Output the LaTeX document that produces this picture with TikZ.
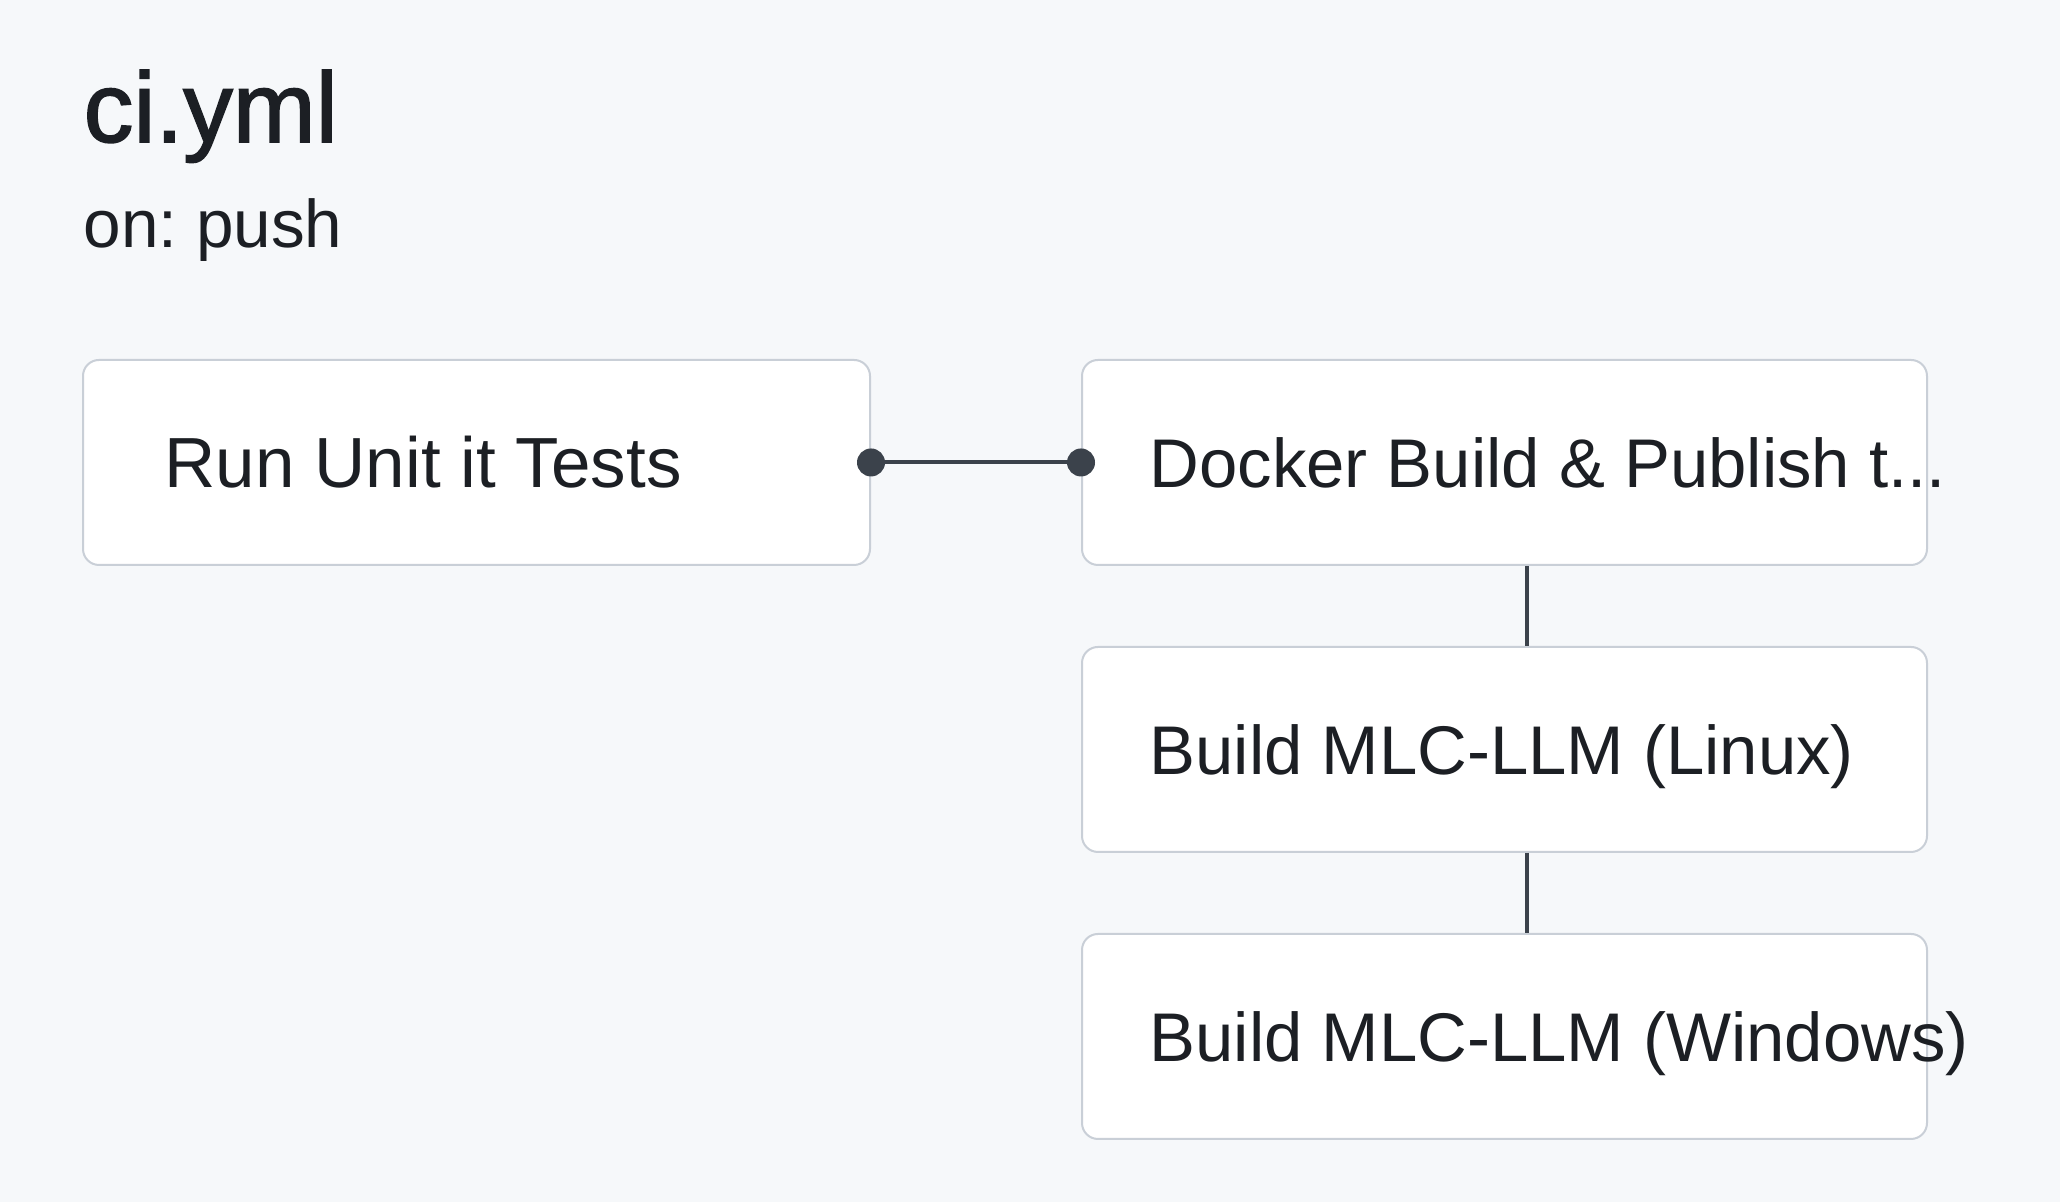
\documentclass[tikz,border=0pt]{standalone}
\usepackage{fontspec}
\setmainfont{Liberation Sans}
\newfontfamily\titleFont{Liberation Sans}[FakeBold=1.6]
\usetikzlibrary{positioning}
\frenchspacing
\definecolor{pageBg}{RGB}{246,248,250}
\definecolor{boxLine}{RGB}{201,207,215}
\definecolor{linkGray}{RGB}{59,66,75}
\definecolor{textDark}{RGB}{28,31,36}
\tikzset{
	jobbox/.style={draw=boxLine, line width=0.02cm, fill=white, rounded corners=0.16cm, minimum height=2.05cm, inner sep=0pt},
	joblabel/.style={anchor=base west, inner sep=0pt, text=textDark, font=\fontsize{19.6}{24}\selectfont},
	link/.style={draw=linkGray, line width=0.04cm},
	linkdot/.style={circle, fill=linkGray, inner sep=0pt, minimum size=0.28cm}
}
\begin{document}
\begin{tikzpicture}
		\fill[pageBg] (0,0) rectangle (20.6,12.02);		% background
		\useasboundingbox (0,0) rectangle (20.6,12.02);
		
		% workflow title
		\node[joblabel, font=\titleFont\fontsize{28.3}{32}\selectfont] (title) at (0.83,10.60) {ci.yml};
		\node[joblabel, font=\fontsize{19.2}{22}\selectfont] (trigger) at (0.83,9.54) {on: push};
		
		% job boxes
		\node[jobbox, minimum width=7.87cm] (unitTests) at (4.765,7.395) {};
		\node[jobbox, minimum width=8.45cm, right=2.10cm of unitTests] (dockerPub) {};
		\node[jobbox, minimum width=8.45cm, below=0.80cm of dockerPub] (buildLinux) {};
		\node[jobbox, minimum width=8.45cm, below=0.80cm of buildLinux] (buildWin) {};
		
		% job names
		\node[joblabel, font=\fontsize{20.2}{24}\selectfont] (unitTestsText) at ([xshift=0.82cm,yshift=-0.255cm]unitTests.west) {Run Unit it Tests};
		\node[joblabel] (dockerPubText) at ([xshift=0.68cm,yshift=-0.255cm]dockerPub.west) {Docker Build \& Publish t...};
		\node[joblabel] (buildLinuxText) at ([xshift=0.68cm,yshift=-0.255cm]buildLinux.west) {Build MLC-LLM (Linux)};
		\node[joblabel] (buildWinText) at ([xshift=0.68cm,yshift=-0.255cm]buildWin.west) {Build MLC-LLM (Windows)};
		
		% connectors
		\draw[link] (unitTests.east) -- (dockerPub.west);
		\node[linkdot] (dotLeft) at (unitTests.east) {};
		\node[linkdot] (dotRight) at (dockerPub.west) {};
		\draw[link] ([xshift=0.22cm]dockerPub.south) -- ([xshift=0.22cm]buildLinux.north);
		\draw[link] ([xshift=0.22cm]buildLinux.south) -- ([xshift=0.22cm]buildWin.north);
\end{tikzpicture}
\end{document}
